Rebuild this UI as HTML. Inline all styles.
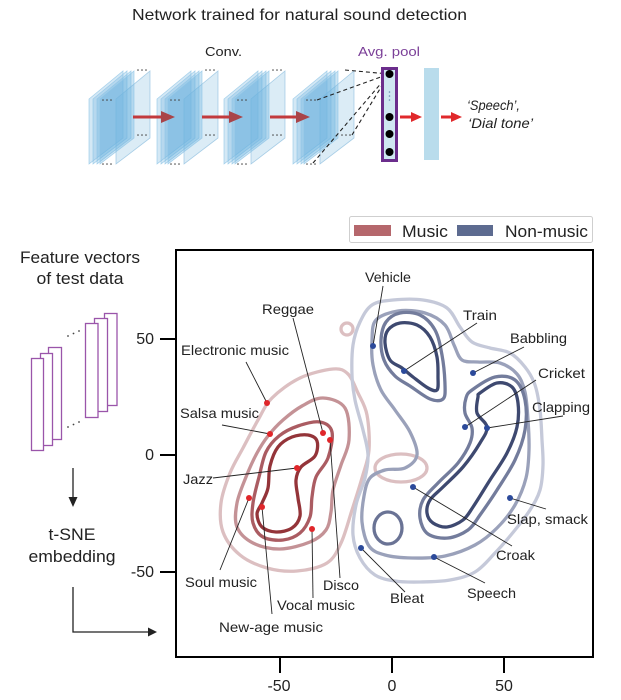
<!DOCTYPE html>
<html>
<head>
<meta charset="utf-8">
<style>
  html,body{margin:0;padding:0;background:#fff;}
  body{width:621px;height:700px;overflow:hidden;}
  svg{display:block;font-family:"Liberation Sans",Arial,sans-serif;}
  .lbl{font-size:14px;fill:#222;}
  .ln{stroke:#222;stroke-width:0.9;fill:none;}
  .ct{fill:none;stroke-width:3.3;stroke-linejoin:round;}
</style>
</head>
<body>
<svg width="621" height="700" viewBox="0 0 621 700" xmlns="http://www.w3.org/2000/svg">
  <!-- Title -->
  <text x="132" y="20" font-size="16" fill="#222" textLength="335" lengthAdjust="spacingAndGlyphs">Network trained for natural sound detection</text>
  <text x="205" y="56" font-size="13" fill="#222" textLength="37" lengthAdjust="spacingAndGlyphs">Conv.</text>
  <text x="358" y="56" font-size="13" fill="#7b3f98" textLength="62" lengthAdjust="spacingAndGlyphs">Avg. pool</text>

  <!-- Conv stacks -->
  <g id="stacks"></g>

  <!-- red arrows -->
  <g fill="#c23a3d" stroke="#c23a3d">
    <line x1="133" y1="117" x2="163" y2="117" stroke-width="3"/>
    <polygon points="161,111 175,117 161,123" stroke="none" fill="#a94449"/>
    <line x1="202" y1="117" x2="231" y2="117" stroke-width="3"/>
    <polygon points="229,111 243,117 229,123" stroke="none" fill="#a94449"/>
    <line x1="270" y1="117" x2="298" y2="117" stroke-width="3"/>
    <polygon points="296,111 310,117 296,123" stroke="none" fill="#a94449"/>
    <line x1="400" y1="117" x2="413" y2="117" stroke-width="3" stroke="#e0292c"/>
    <polygon points="411,112 422,117 411,122" stroke="none" fill="#e0292c"/>
    <line x1="441" y1="117" x2="453" y2="117" stroke-width="3" stroke="#e0292c"/>
    <polygon points="451,112 462,117 451,122" stroke="none" fill="#e0292c"/>
  </g>

  <!-- dashed lines to avg pool -->
  <g stroke="#222" stroke-width="1.1" stroke-dasharray="4,3" fill="none">
    <line x1="345" y1="70" x2="389" y2="74"/>
    <line x1="317" y1="100" x2="389" y2="74"/>
    <line x1="352" y1="135" x2="389" y2="74"/>
    <line x1="313" y1="163" x2="389" y2="74"/>
  </g>

  <!-- avg pool -->
  <rect x="382.5" y="68.5" width="14" height="92" fill="#cfe6f1" stroke="#6b2d8c" stroke-width="3"/>
  <g fill="#000">
    <circle cx="389.5" cy="74" r="4"/>
    <circle cx="389.5" cy="117" r="4"/>
    <circle cx="389.5" cy="134" r="4"/>
    <circle cx="389.5" cy="152" r="4"/>
  </g>
  <g fill="#6a8fb0">
    <circle cx="389.5" cy="92" r="0.8"/>
    <circle cx="389.5" cy="96" r="0.8"/>
    <circle cx="389.5" cy="100" r="0.8"/>
  </g>
  <rect x="424" y="68" width="15" height="92" fill="#b9dcec"/>

  <text x="467" y="110" font-size="14" font-style="italic" fill="#222" textLength="53" lengthAdjust="spacingAndGlyphs">‘Speech’,</text>
  <text x="468" y="128" font-size="14" font-style="italic" fill="#222" textLength="65" lengthAdjust="spacingAndGlyphs">‘Dial tone’</text>

  <!-- Left side -->
  <text x="80" y="263" font-size="17" fill="#222" text-anchor="middle" textLength="120" lengthAdjust="spacingAndGlyphs">Feature vectors</text>
  <text x="80" y="284" font-size="17" fill="#222" text-anchor="middle" textLength="87" lengthAdjust="spacingAndGlyphs">of test data</text>

  <g fill="#fff" stroke="#9a55aa" stroke-width="1.3">
    <rect x="48.5" y="347.5" width="13" height="92"/>
    <rect x="40.5" y="353.5" width="12" height="92"/>
    <rect x="31.5" y="358.5" width="12" height="92"/>
    <rect x="104.5" y="313.5" width="12.5" height="92"/>
    <rect x="94.5" y="318.5" width="13" height="93"/>
    <rect x="85.5" y="323.5" width="12.5" height="94"/>
  </g>
  <g fill="#444">
    <circle cx="68" cy="336" r="0.9"/><circle cx="73.5" cy="333.5" r="0.9"/><circle cx="79" cy="331" r="0.9"/>
    <circle cx="68" cy="427" r="0.9"/><circle cx="73.5" cy="424.5" r="0.9"/><circle cx="79" cy="422" r="0.9"/>
  </g>

  <line x1="73" y1="468" x2="73" y2="499" stroke="#222" stroke-width="1.3"/>
  <polygon points="68.5,497 77.5,497 73,507" fill="#222"/>

  <text x="72" y="540" font-size="17" fill="#222" text-anchor="middle" textLength="47" lengthAdjust="spacingAndGlyphs">t-SNE</text>
  <text x="72" y="562" font-size="17" fill="#222" text-anchor="middle" textLength="87" lengthAdjust="spacingAndGlyphs">embedding</text>

  <path d="M73 587 V632 H150" stroke="#222" stroke-width="1.3" fill="none"/>
  <polygon points="148,627.5 157,632 148,636.5" fill="#222"/>

  <!-- Legend -->
  <rect x="349.5" y="216.5" width="243" height="26" rx="2" fill="#fff" stroke="#cfcfcf" stroke-width="1"/>
  <rect x="354" y="225" width="37" height="11" fill="#b5676c"/>
  <text x="402" y="237" font-size="17" fill="#222" textLength="46" lengthAdjust="spacingAndGlyphs">Music</text>
  <rect x="457" y="225" width="36" height="11" fill="#5d6b90"/>
  <text x="505" y="237" font-size="17" fill="#222" textLength="83" lengthAdjust="spacingAndGlyphs">Non-music</text>

  <!-- Contours -->
  <g id="contours">
    <polygon class="ct sm" stroke="#dcbfc1" points="272,398 300,378 333,369 348,374 358,393 367,415 369,450 362,478 352,510 341,543 327,563 297,571 267,568 240,555 223,532 221,503 230,473 243,448 258,420"/>
    <polygon class="ct sm" stroke="#c49296" points="323,398 345,408 349,440 341,465 333,490 331,512 326,530 310,542 280,549 253,543 237,527 237,503 246,477 257,453 268,436 283,420 302,406"/>
    <polygon class="ct sm" stroke="#ab5c62" points="320,422 332,432 328,458 316,477 312,497 310,517 300,533 283,540 263,537 253,523 253,503 259,477 266,452 279,436 298,426"/>
    <polygon class="ct sm" stroke="#943439" points="308,435 317,441 315,456 301,467 296,480 298,498 300,516 292,528 276,532 262,527 257,514 262,503 268,488 270,466 278,447 292,437"/>
    <circle cx="347" cy="329" r="6" class="ct" stroke="#dcbfc1" stroke-width="2.5"/>
    <ellipse cx="401" cy="468" rx="26" ry="14" class="ct" stroke="#dcbfc1"/>

    <polygon class="ct sm" stroke="#c5c9d9" points="360,322 372,305 393,300 423,300 447,308 460,327 472,342 490,348 510,353 525,367 535,385 540,410 542,440 543,465 540,490 530,510 515,530 495,553 475,572 450,580 420,582 395,581 375,575 360,558 353,535 356,505 365,478 368,455 363,430 355,400 352,375 353,345"/>
    <polygon class="ct sm" stroke="#9aa1ba" points="376,320 398,311 425,313 445,325 454,345 462,360 478,362 500,363 517,374 525,392 528,420 529,450 526,478 515,505 497,528 475,545 445,556 412,558 385,555 369,546 362,522 364,496 370,478 385,470 405,468 417,455 410,432 395,410 381,390 373,365 372,340"/>
    <polygon class="ct sm" stroke="#737c9c" points="381,340 386,322 400,313 420,315 435,330 442,355 445,385 443,399 430,399 410,386 395,376 384,360"/>
    <polygon class="ct sm" stroke="#737c9c" points="472,390 495,377 515,380 525,400 525,430 515,460 497,490 480,515 468,530 448,538 428,534 420,518 423,500 438,483 458,463 470,443 472,428 465,413 466,398"/>
    <ellipse cx="388" cy="528" rx="14" ry="16" class="ct" stroke="#6a7395"/>
    <polygon class="ct sm" stroke="#3e4970" points="385,343 388,330 400,323 417,325 430,337 437,357 438,377 437,390 428,388 413,377 402,368 390,360"/>
    <polygon class="ct sm" stroke="#3e4970" points="480,393 497,383 512,387 518,403 517,427 507,453 490,480 473,507 463,520 447,527 433,523 427,513 430,500 443,487 463,467 480,443 487,427 477,413 478,397"/>
  </g>

  <!-- Plot box -->
  <rect x="176" y="250" width="417" height="407" fill="none" stroke="#000" stroke-width="2"/>
  <g stroke="#000" stroke-width="2">
    <line x1="160" y1="339" x2="176" y2="339"/>
    <line x1="160" y1="455" x2="176" y2="455"/>
    <line x1="160" y1="572" x2="176" y2="572"/>
    <line x1="280" y1="657" x2="280" y2="673"/>
    <line x1="392" y1="657" x2="392" y2="673"/>
    <line x1="504" y1="657" x2="504" y2="673"/>
  </g>
  <g font-size="16" fill="#222">
    <text x="154" y="344" text-anchor="end">50</text>
    <text x="154" y="460" text-anchor="end">0</text>
    <text x="154" y="577" text-anchor="end">-50</text>
    <text x="279" y="691" text-anchor="middle">-50</text>
    <text x="392" y="691" text-anchor="middle">0</text>
    <text x="504" y="691" text-anchor="middle">50</text>
  </g>

  <!-- label lines -->
  <g class="ln">
    <line x1="383" y1="286" x2="373" y2="346"/>
    <line x1="477" y1="323" x2="404" y2="371"/>
    <line x1="524" y1="347" x2="473" y2="373"/>
    <line x1="536" y1="380" x2="465" y2="427"/>
    <line x1="563" y1="416" x2="487" y2="428"/>
    <line x1="510" y1="498" x2="546" y2="509"/>
    <line x1="413" y1="487" x2="512" y2="546"/>
    <line x1="434" y1="557" x2="485" y2="583"/>
    <line x1="361" y1="548" x2="405" y2="592"/>
    <line x1="293" y1="318" x2="323" y2="433"/>
    <line x1="246" y1="362" x2="267" y2="403"/>
    <line x1="222" y1="425" x2="270" y2="434"/>
    <line x1="330" y1="440" x2="340" y2="578"/>
    <line x1="213" y1="478" x2="297" y2="468"/>
    <line x1="220" y1="570" x2="249" y2="498"/>
    <line x1="312" y1="529" x2="313" y2="598"/>
    <line x1="262" y1="507" x2="272" y2="614"/>
  </g>

  <!-- points -->
  <g fill="#2c4a9a">
    <circle cx="373" cy="346" r="3"/>
    <circle cx="404" cy="371" r="3"/>
    <circle cx="473" cy="373" r="3"/>
    <circle cx="465" cy="427" r="3"/>
    <circle cx="487" cy="428" r="3"/>
    <circle cx="510" cy="498" r="3"/>
    <circle cx="413" cy="487" r="3"/>
    <circle cx="434" cy="557" r="3"/>
    <circle cx="361" cy="548" r="3"/>
  </g>
  <g fill="#e0262a">
    <circle cx="323" cy="433" r="3"/>
    <circle cx="267" cy="403" r="3"/>
    <circle cx="270" cy="434" r="3"/>
    <circle cx="330" cy="440" r="3"/>
    <circle cx="297" cy="468" r="3"/>
    <circle cx="249" cy="498" r="3"/>
    <circle cx="312" cy="529" r="3"/>
    <circle cx="262" cy="507" r="3"/>
  </g>

  <!-- labels -->
  <g class="lbl">
    <text x="365" y="282" textLength="46" lengthAdjust="spacingAndGlyphs">Vehicle</text>
    <text x="463" y="320" textLength="34" lengthAdjust="spacingAndGlyphs">Train</text>
    <text x="510" y="343" textLength="57" lengthAdjust="spacingAndGlyphs">Babbling</text>
    <text x="538" y="378" textLength="47" lengthAdjust="spacingAndGlyphs">Cricket</text>
    <text x="532" y="412" textLength="58" lengthAdjust="spacingAndGlyphs">Clapping</text>
    <text x="507" y="524" textLength="81" lengthAdjust="spacingAndGlyphs">Slap, smack</text>
    <text x="496" y="560" textLength="39" lengthAdjust="spacingAndGlyphs">Croak</text>
    <text x="467" y="598" textLength="49" lengthAdjust="spacingAndGlyphs">Speech</text>
    <text x="390" y="603" textLength="34" lengthAdjust="spacingAndGlyphs">Bleat</text>
    <text x="262" y="314" textLength="52" lengthAdjust="spacingAndGlyphs">Reggae</text>
    <text x="181" y="355" textLength="108" lengthAdjust="spacingAndGlyphs">Electronic music</text>
    <text x="180" y="418" textLength="79" lengthAdjust="spacingAndGlyphs">Salsa music</text>
    <text x="183" y="484" textLength="30" lengthAdjust="spacingAndGlyphs">Jazz</text>
    <text x="185" y="587" textLength="72" lengthAdjust="spacingAndGlyphs">Soul music</text>
    <text x="323" y="590" textLength="36" lengthAdjust="spacingAndGlyphs">Disco</text>
    <text x="277" y="610" textLength="78" lengthAdjust="spacingAndGlyphs">Vocal music</text>
    <text x="219" y="632" textLength="104" lengthAdjust="spacingAndGlyphs">New-age music</text>
  </g>
</svg>
<script>
(function(){
  var NS="http://www.w3.org/2000/svg";
  var g=document.getElementById("stacks");
  var xs=[89,157,224,293];
  function poly(x,fill,stroke){
    var p=document.createElementNS(NS,"polygon");
    p.setAttribute("points",x+",99 "+(x+34)+",71 "+(x+34)+",138 "+x+",164");
    p.setAttribute("fill",fill);
    p.setAttribute("stroke",stroke);
    p.setAttribute("stroke-width","0.8");
    g.appendChild(p);
  }
  function dots(x,y){
    for(var i=0;i<3;i++){
      var c=document.createElementNS(NS,"circle");
      c.setAttribute("cx",x+i*4);c.setAttribute("cy",y);c.setAttribute("r","0.8");
      c.setAttribute("fill","#444");g.appendChild(c);
    }
  }
  xs.forEach(function(x0,k){
    poly(x0+27,"rgba(175,212,235,0.45)","rgba(150,195,225,0.8)");
    poly(x0,"rgba(120,185,225,0.32)","rgba(140,195,230,0.7)");
    poly(x0+4,"rgba(120,185,225,0.32)","rgba(140,195,230,0.7)");
    poly(x0+8,"rgba(110,180,225,0.32)","rgba(140,195,230,0.7)");
    poly(x0+11,"rgba(100,175,220,0.32)","rgba(140,195,230,0.7)");
    if(k<3) dots(x0+49,70);
    dots(x0+14,100);
    dots(x0+49,135);
    dots(x0+14,164);
  });
  var ps=document.querySelectorAll("polygon.sm");
  for(var i=0;i<ps.length;i++){
    var el=ps[i];
    var nums=el.getAttribute("points").trim().split(/[\s,]+/).map(Number);
    var pts=[];
    for(var j=0;j<nums.length;j+=2) pts.push([nums[j],nums[j+1]]);
    var n=pts.length, d="";
    for(var k=0;k<n;k++){
      var p0=pts[(k-1+n)%n],p1=pts[k],p2=pts[(k+1)%n],p3=pts[(k+2)%n];
      if(k===0) d+="M"+p1[0]+","+p1[1];
      var c1=[p1[0]+(p2[0]-p0[0])/6,p1[1]+(p2[1]-p0[1])/6];
      var c2=[p2[0]-(p3[0]-p1[0])/6,p2[1]-(p3[1]-p1[1])/6];
      d+="C"+c1[0].toFixed(1)+","+c1[1].toFixed(1)+" "+c2[0].toFixed(1)+","+c2[1].toFixed(1)+" "+p2[0]+","+p2[1];
    }
    d+="Z";
    var path=document.createElementNS(NS,"path");
    path.setAttribute("d",d);
    path.setAttribute("class","ct");
    path.setAttribute("stroke",el.getAttribute("stroke"));
    el.parentNode.replaceChild(path,el);
  }
})();
</script>
</body>
</html>
